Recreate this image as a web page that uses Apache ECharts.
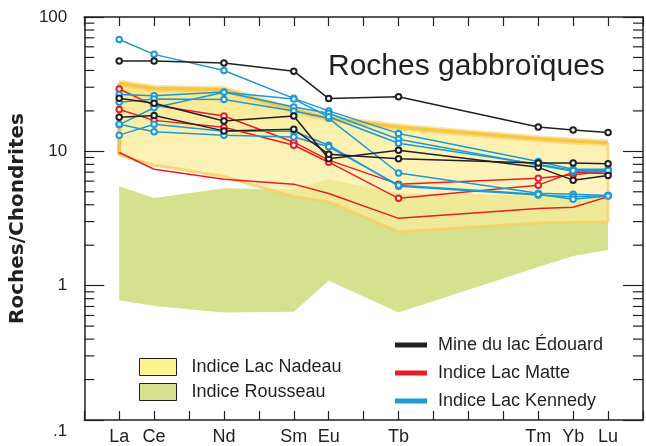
<!DOCTYPE html>
<html>
<head>
<meta charset="utf-8">
<script src="https://cdn.jsdelivr.net/npm/echarts@6/dist/echarts.min.js"></script>
<style>
  html, body { margin: 0; padding: 0; background: #fff; }
  #chart { width: 646px; height: 446px; }
</style>
</head>
<body>
<div id="chart"></div>
<script>
// REE positions (atomic number) and labels
const elements = ["La", "Ce", "Nd", "Sm", "Eu", "Tb", "Tm", "Yb", "Lu"]
const atomicNumbers = [57, 58, 60, 62, 63, 65, 69, 70, 71]

// Mine du lac Édouard
const edouard1 = [47, 47, 45.5, 39.5, 24.7, 25.5, 15.2, 14.4, 13.8]
const edouard2 = [24.8, 22.8, 16.8, 18.3, 8.8, 10.2, 7.6, 6.1, 6.6]
const edouard3 = [17.9, 18.5, 14.2, 14.6, 9.5, 8.8, 8.2, 8.2, 8.1]

// Indice Lac Matte
const matte1 = [29.1, 22.0, 18.3, 11.7, 8.6, 5.7, 6.3, 6.7, 7.1]
const matte2 = [20.5, 17.0, 15.1, 11.1, 8.3, 4.47, 5.6, 7.0, 6.8]
const matte3 = [9.8, 7.35, 6.2, 5.7, 4.85, 3.17, 3.75, 3.83, 4.6]

// Indice Lac Kennedy
const kennedy1 = [68, 52.7, 40, 24.8, 20, 13.6, 8.4, 7.35, 7.35]
const kennedy2 = [26.5, 25.9, 27.7, 21.4, 19.2, 12.3, 7.9, 7.1, 7.05]
const kennedy3 = [23.2, 24.5, 24.3, 20, 17.6, 6.9, 4.87, 4.8, 4.7]
const kennedy4 = [15.8, 21.1, 27.5, 24.5, 18.1, 11.5, 8.0, 7.2, 7.2]
const kennedy5 = [13.2, 15.9, 14.1, 14.1, 11.1, 5.5, 4.73, 4.6, 4.7]
const kennedy6 = [15.9, 14.0, 13.2, 12.8, 10.8, 5.6, 4.8, 4.4, 4.65]

// envelopes
const nadeauTop = [32.2, 29.5, 28.9, 20.3, 17.6, 15.2, 12.4, 11.95, 11.6]
const nadeauBottom = [9.4, 7.9, 6.5, 4.6, 4.2, 2.52, 2.93, 2.97, 2.99]
const rousseauTop = [5.5, 4.5, 5.3, 5.2, 6.2, 4.9, 4.7, 4.6, 4.6]
const rousseauBottom = [0.78, 0.706, 0.63, 0.64, 1.09, 0.63, 1.38, 1.66, 1.84]

// log minor ticks
const minorTicks = [0.2, 0.3, 0.4, 0.5, 0.6, 0.7, 0.8, 0.9, 2, 3, 4, 5, 6, 7, 8, 9, 20, 30, 40, 50, 60, 70, 80, 90]

const xMin = 56
const xMax = 72
const ink = "#231f20"
const font = "Liberation Sans, Arial, sans-serif"

function toPoints(vals) {
  return atomicNumbers.map((x, i) => [x, vals[i]])
}

function lineSeries(name, vals, color, showSymbol) {
  return {
    type: "line",
    name: name,
    data: toPoints(vals),
    symbol: showSymbol ? "emptyCircle" : "none",
    symbolSize: 5.5,
    z: 5,
    lineStyle: { color: color, width: 1.5 },
    itemStyle: { color: color, borderWidth: 1 },
  }
}

function bandSeries(name, top, bottom, color, z, drawEdges) {
  return {
    type: "custom",
    name: name,
    coordinateSystem: "cartesian2d",
    silent: true,
    z: z,
    itemStyle: { color: color },
    data: [[atomicNumbers[0], top[0]]],
    renderItem: function (params, api) {
      let upper = atomicNumbers.map((x, i) => api.coord([x, top[i]]))
      let lower = atomicNumbers.map((x, i) => api.coord([x, bottom[i]]))
      let children = []
      if (drawEdges) {
        children.push({
          type: "polygon",
          shape: { points: upper.concat(lower.slice().reverse()) },
          style: {
            fill: new echarts.graphic.LinearGradient(0, 0, 0, 1, [
              { offset: 0, color: "rgba(250,224,110,0.85)" },
              { offset: 0.35, color: "rgba(251,236,150,0.75)" },
              { offset: 1, color: "rgba(252,240,160,0.6)" },
            ]),
          },
        })
        children.push({
          type: "polyline",
          shape: { points: upper },
          style: { stroke: "rgba(246,196,60,0.45)", lineWidth: 7, fill: null },
        })
        children.push({
          type: "polyline",
          shape: { points: upper },
          style: { stroke: "#f6c744", lineWidth: 3.5, fill: null },
        })
        children.push({
          type: "polyline",
          shape: { points: lower },
          style: { stroke: "rgba(247,205,100,0.8)", lineWidth: 3, fill: null },
        })
        children.push({
          type: "line",
          shape: { x1: upper[0][0], y1: upper[0][1], x2: lower[0][0], y2: lower[0][1] },
          style: { stroke: "#f6c34a", lineWidth: 4 },
        })
        children.push({
          type: "line",
          shape: { x1: upper[8][0], y1: upper[8][1], x2: lower[8][0], y2: lower[8][1] },
          style: { stroke: "rgba(247,210,110,0.8)", lineWidth: 3 },
        })
      } else {
        children.push({
          type: "polygon",
          shape: { points: upper.concat(lower.slice().reverse()) },
          style: { fill: color },
        })
      }
      return { type: "group", children: children }
    },
  }
}

const minorTickSeries = {
  type: "custom",
  coordinateSystem: "cartesian2d",
  silent: true,
  clip: false,
  z: 10,
  data: minorTicks.map(v => [xMin, v]),
  renderItem: function (params, api) {
    let v = api.value(1)
    let l = api.coord([xMin, v])
    let r = api.coord([xMax, v])
    return {
      type: "group",
      children: [
        { type: "line", shape: { x1: l[0], y1: l[1], x2: l[0] + 10, y2: l[1] }, style: { stroke: ink, lineWidth: 1.2 } },
        { type: "line", shape: { x1: r[0] - 10, y1: r[1], x2: r[0], y2: r[1] }, style: { stroke: ink, lineWidth: 1.2 } },
      ],
    }
  },
}

const black = "#231f20"
const red = "#ed1c24"
const blue = "#1b9ad6"

const legendText = { fontFamily: font, fontSize: 18, color: ink, lineHeight: 20 }

const option = {
  animation: false,
  backgroundColor: "#fff",
  title: {
    text: "Roches gabbroïques",
    left: 328,
    top: 52,
    padding: 0,
    textStyle: { fontFamily: font, fontSize: 30, fontWeight: "normal", color: ink },
  },
  grid: { left: 72, top: 17, width: 576, height: 403 },
  legend: [
    {
      left: 139,
      top: 357,
      orient: "vertical",
      padding: 0,
      itemGap: 5,
      itemWidth: 37,
      itemHeight: 17,
      icon: "rect",
      selectedMode: false,
      textStyle: Object.assign({ padding: [0, 0, 0, 10] }, legendText),
      data: [
        { name: "Indice Lac Nadeau", itemStyle: { color: "#fff48c", borderColor: ink, borderWidth: 1 } },
        { name: "Indice Rousseau", itemStyle: { color: "#d5e18c", borderColor: ink, borderWidth: 1 } },
      ],
    },
    {
      left: 395,
      top: 335,
      orient: "vertical",
      padding: 0,
      itemGap: 8,
      itemWidth: 32,
      itemHeight: 5,
      icon: "rect",
      selectedMode: false,
      textStyle: Object.assign({ padding: [0, 0, 0, 6] }, legendText),
      data: [
        { name: "Mine du lac Édouard", itemStyle: { color: black } },
        { name: "Indice Lac Matte", itemStyle: { color: red } },
        { name: "Indice Lac Kennedy", itemStyle: { color: blue } },
      ],
    },
  ],
  xAxis: [
    {
      type: "value",
      min: xMin,
      max: xMax,
      interval: 1,
      position: "bottom",
      axisLine: { lineStyle: { color: ink, width: 1.5 } },
      axisTick: { inside: true, length: 9, lineStyle: { color: ink, width: 1.2 } },
      splitLine: { show: false },
      axisLabel: {
        margin: 8,
        fontFamily: font,
        fontSize: 18,
        color: ink,
        formatter: function (v) {
          let i = atomicNumbers.indexOf(Math.round(v))
          return i >= 0 ? elements[i] : ""
        },
      },
    },
    {
      type: "value",
      min: xMin,
      max: xMax,
      interval: 1,
      position: "top",
      axisLine: { lineStyle: { color: ink, width: 1.5 } },
      axisTick: { inside: true, length: 9, lineStyle: { color: ink, width: 1.2 } },
      splitLine: { show: false },
      axisLabel: { show: false },
    },
  ],
  yAxis: [
    {
      type: "log",
      logBase: 10,
      min: 0.1,
      max: 100,
      position: "left",
      name: "Roches/Chondrites",
      nameLocation: "middle",
      nameGap: 43,
      nameTextStyle: { fontFamily: "DejaVu Sans", fontWeight: "bold", fontSize: 20, color: ink },
      axisLine: { show: true, lineStyle: { color: ink, width: 1.5 } },
      axisTick: { inside: true, length: 20, lineStyle: { color: ink, width: 1.2 } },
      splitLine: { show: false },
      axisLabel: {
        margin: 17,
        fontFamily: font,
        fontSize: 17,
        color: ink,
        formatter: function (v) {
          return v < 0.5 ? "{lo|.1}" : String(Math.round(v))
        },
        rich: { lo: { fontFamily: font, fontSize: 17, color: ink, padding: [22, 0, 0, 0] } },
      },
    },
    {
      type: "log",
      logBase: 10,
      min: 0.1,
      max: 100,
      position: "right",
      axisLine: { show: true, lineStyle: { color: ink, width: 1.5 } },
      axisTick: { inside: true, length: 20, lineStyle: { color: ink, width: 1.2 } },
      splitLine: { show: false },
      axisLabel: { show: false },
    },
  ],
  series: [
    bandSeries("Indice Rousseau", rousseauTop, rousseauBottom, "#d5e18c", 1, false),
    bandSeries("Indice Lac Nadeau", nadeauTop, nadeauBottom, "#fff48c", 2, true),
    minorTickSeries,
    lineSeries("Indice Lac Matte", matte3, red, false),
    lineSeries("Indice Lac Matte", matte1, red, true),
    lineSeries("Indice Lac Matte", matte2, red, true),
    lineSeries("Indice Lac Kennedy", kennedy1, blue, true),
    lineSeries("Indice Lac Kennedy", kennedy2, blue, true),
    lineSeries("Indice Lac Kennedy", kennedy3, blue, true),
    lineSeries("Indice Lac Kennedy", kennedy4, blue, true),
    lineSeries("Indice Lac Kennedy", kennedy5, blue, true),
    lineSeries("Indice Lac Kennedy", kennedy6, blue, true),
    lineSeries("Mine du lac Édouard", edouard1, black, true),
    lineSeries("Mine du lac Édouard", edouard2, black, true),
    lineSeries("Mine du lac Édouard", edouard3, black, true),
  ],
}

const chart = echarts.init(document.getElementById("chart"))
chart.setOption(option)
</script>
</body>
</html>
